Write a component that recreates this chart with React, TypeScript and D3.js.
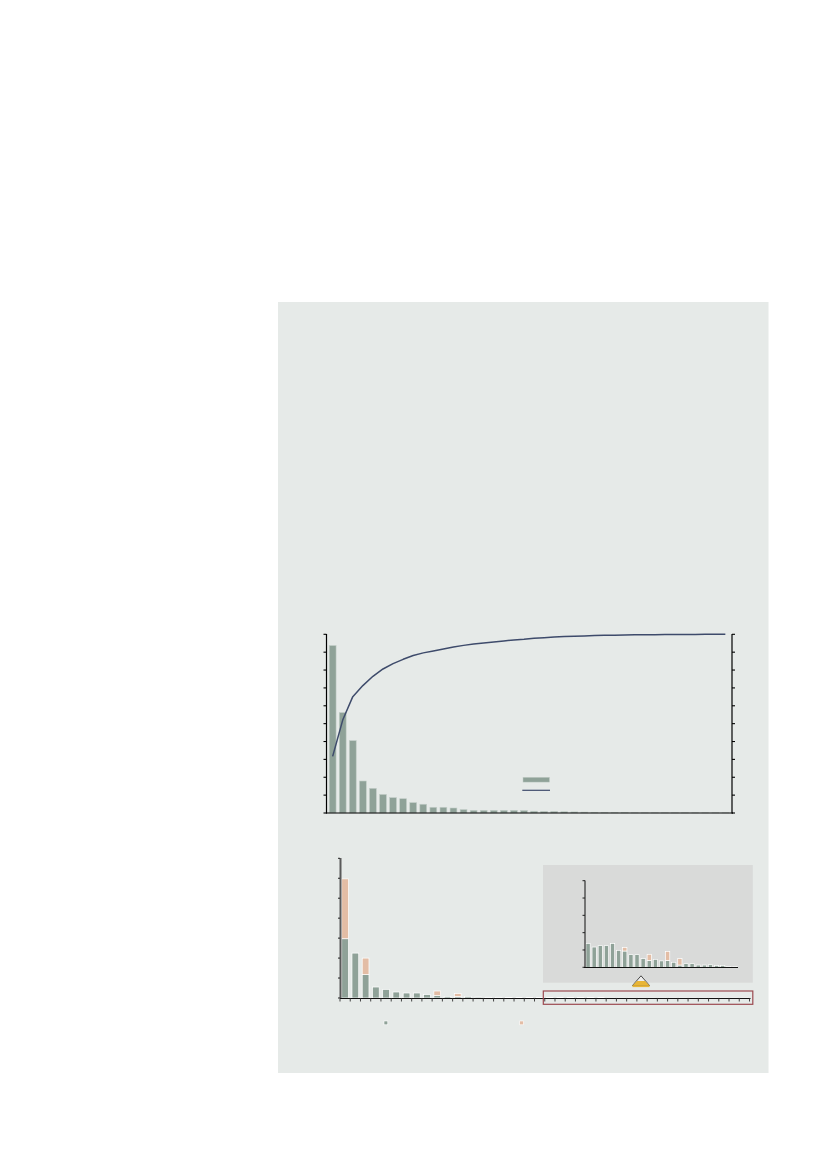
import React from "react";
import * as d3 from "d3";

// ---------- DATA ----------
const TOP_CATEGORIES = d3.range(40).map((i) => `C${i + 1}`);
const TOP_VALUES = [
  9.37, 5.62, 4.05, 1.79, 1.38, 1.04, 0.86, 0.8, 0.58, 0.49, 0.32, 0.32, 0.28, 0.19, 0.15,
  0.15, 0.15, 0.15, 0.15, 0.14, 0.1, 0.09, 0.09, 0.07, 0.06, 0.05, 0.04, 0.03, 0.02, 0.02,
  0.01, 0.01, 0.01, 0.01, 0.01, 0.01, 0.01, 0.01, 0.01, 0.01,
];
const CUMULATIVE_PCT = [
  31.7, 52.0, 65.1, 71.3, 76.5, 80.6, 83.6, 86.0, 88.1, 89.6, 90.7, 91.8, 92.9, 93.8, 94.6,
  95.1, 95.7, 96.3, 96.8, 97.2, 97.8, 98.1, 98.5, 98.7, 98.9, 99.1, 99.3, 99.4, 99.5, 99.6,
  99.7, 99.75, 99.8, 99.85, 99.9, 99.92, 99.95, 99.97, 99.99, 100,
];
const TOP_LEFT_TICKS = d3.range(0, 11);
const TOP_RIGHT_TICKS = d3.range(0, 101, 10);

const BOTTOM_CATEGORIES = d3.range(40).map((i) => `B${i + 1}`);
const BOTTOM_GREEN = [
  2.97, 2.25, 1.17, 0.55, 0.43, 0.3, 0.25, 0.25, 0.17, 0.12, 0.08, 0.07, 0.08, 0.05, 0.04,
  0.04, 0.03, 0.03, 0.03, 0.03, 0.03, 0.02, 0.02, 0.02, 0.02, 0.02, 0.01, 0.01, 0.01, 0.01,
  0.01, 0.01, 0.01, 0.01, 0.01, 0.01, 0.01, 0.01, 0.01, 0.01,
];
const BOTTOM_PEACH = [
  3.0, 0, 0.83, 0, 0, 0, 0, 0, 0, 0.23, 0, 0.15, 0, 0, 0, 0, 0, 0, 0, 0, 0, 0, 0, 0, 0, 0, 0,
  0, 0, 0, 0, 0, 0, 0, 0, 0, 0, 0, 0, 0,
];
const BOTTOM_TICKS = d3.range(0, 8);

const INSET_CATEGORIES = d3.range(25).map((i) => `I${i + 1}`);
const INSET_GREEN = [
  1.38, 1.17, 1.25, 1.25, 1.37, 0.98, 0.94, 0.73, 0.73, 0.5, 0.4, 0.46, 0.37, 0.4, 0.29, 0.13,
  0.21, 0.21, 0.13, 0.13, 0.15, 0.1, 0.1, 0.04, 0.04,
];
const INSET_PEACH = [
  0, 0, 0, 0, 0, 0, 0.21, 0, 0, 0, 0.35, 0, 0, 0.52, 0, 0.37, 0, 0, 0, 0, 0, 0, 0, 0, 0,
];
const INSET_TICKS = d3.range(0, 6);

// ---------- STYLE ----------
const PANEL = "#e6eae8";
const GREEN = "#8fa298";
const PEACH = "#e3bda5";
const NAVY = "#3e4b6b";
const INSET_BG = "#d9dad9";

export default function App() {
  // Top chart scales
  const tx = d3.scaleBand<string>().domain(TOP_CATEGORIES).range([326, 732]).paddingInner(0.32).paddingOuter(0.32);
  const ty = d3.scaleLinear().domain([0, 10]).range([813, 634.3]);
  const tyR = d3.scaleLinear().domain([0, 100]).range([813, 634.3]);
  const line = d3
    .line<number>()
    .x((_, i) => (tx(TOP_CATEGORIES[i]) as number) + tx.bandwidth() / 2)
    .y((d) => tyR(d));

  // Bottom chart scales
  const bx = d3.scaleBand<string>().domain(BOTTOM_CATEGORIES).range([340, 749.5]).paddingInner(0.34).paddingOuter(0.17);
  const by = d3.scaleLinear().domain([0, 7]).range([998, 858.3]);
  const bStep = bx.step();
  const bTickXs = d3.range(41).map((k) => 340 + k * bStep);

  // Inset scales
  const ix = d3.scaleBand<string>().domain(INSET_CATEGORIES).range([585, 738]).paddingInner(0.3).paddingOuter(0.15);
  const iy = d3.scaleLinear().domain([0, 5]).range([967.3, 880.7]);

  return (
    <svg
      width={827}
      height={1169}
      style={{ position: "absolute", left: 0, top: 0, display: "block" }}
    >
      <rect x={0} y={0} width={827} height={1169} fill="#ffffff" />
      <rect x={278} y={302} width={490.5} height={771} fill={PANEL} />

      {/* ---------- TOP CHART ---------- */}
      <g>
        {TOP_VALUES.map((v, i) => (
          <rect
            key={i}
            x={tx(TOP_CATEGORIES[i])}
            y={ty(v)}
            width={tx.bandwidth()}
            height={Math.max(0, ty(0) - ty(v))}
            fill={GREEN}
            stroke="#c3cec8"
            strokeWidth={0.6}
          />
        ))}
        <path d={line(CUMULATIVE_PCT) || ""} fill="none" stroke={NAVY} strokeWidth={1.5} strokeLinejoin="round" />
        {/* axes */}
        <line x1={326.5} x2={326.5} y1={634} y2={813.5} stroke="#000" strokeWidth={1.2} />
        {TOP_LEFT_TICKS.map((t) => (
          <line key={t} x1={323.5} x2={326.5} y1={ty(t)} y2={ty(t)} stroke="#000" strokeWidth={1.1} />
        ))}
        <line x1={732} x2={732} y1={634} y2={813.5} stroke="#000" strokeWidth={1.2} />
        {TOP_RIGHT_TICKS.map((t) => (
          <line key={t} x1={732} x2={735} y1={tyR(t)} y2={tyR(t)} stroke="#000" strokeWidth={1.1} />
        ))}
        <line x1={326} x2={733} y1={813} y2={813} stroke="#000" strokeWidth={1.2} />
        {/* legend */}
        <rect x={523} y={777.3} width={26.5} height={4.8} fill={GREEN} stroke="#c3cec8" strokeWidth={0.5} />
        <line x1={522.3} x2={550} y1={790.3} y2={790.3} stroke={NAVY} strokeWidth={1.2} />
      </g>

      {/* ---------- BOTTOM CHART ---------- */}
      <g>
        {BOTTOM_GREEN.map((v, i) => (
          <rect
            key={"g" + i}
            x={bx(BOTTOM_CATEGORIES[i])}
            y={by(v)}
            width={bx.bandwidth()}
            height={Math.max(0, by(0) - by(v))}
            fill={GREEN}
            stroke="#ffffff"
            strokeWidth={0.7}
          />
        ))}
        {BOTTOM_PEACH.map((v, i) =>
          v > 0 ? (
            <rect
              key={"p" + i}
              x={bx(BOTTOM_CATEGORIES[i])}
              y={by(BOTTOM_GREEN[i] + v)}
              width={bx.bandwidth()}
              height={by(BOTTOM_GREEN[i]) - by(BOTTOM_GREEN[i] + v)}
              fill={PEACH}
              stroke="#ffffff"
              strokeWidth={0.7}
            />
          ) : null
        )}
        {/* y axis */}
        <line x1={340.5} x2={340.5} y1={858} y2={998.5} stroke="#5a5a5a" strokeWidth={2} />
        {BOTTOM_TICKS.map((t) => (
          <line key={t} x1={338} x2={340} y1={by(t)} y2={by(t)} stroke="#222" strokeWidth={1} />
        ))}
        {/* x axis */}
        <line x1={340} x2={750.5} y1={998.5} y2={998.5} stroke="#111" strokeWidth={1.2} />
        {bTickXs.map((x, k) => (
          <line key={k} x1={x} x2={x} y1={998.5} y2={1001.5} stroke="#444" strokeWidth={1} />
        ))}
        {/* red highlight box */}
        <rect x={543.3} y={991} width={209.5} height={13.3} fill="none" stroke="#9c4a50" strokeWidth={1.2} />
        {/* legend */}
        <rect x={384} y={1021} width={3.8} height={3.8} fill={GREEN} stroke="#fff" strokeWidth={0.6} />
        <rect x={519.7} y={1021} width={3.8} height={3.8} fill={PEACH} stroke="#fff" strokeWidth={0.6} />
      </g>

      {/* ---------- INSET ---------- */}
      <g>
        <rect x={543} y={865} width={209.8} height={117.7} fill={INSET_BG} />
        {INSET_GREEN.map((v, i) => (
          <rect
            key={"ig" + i}
            x={ix(INSET_CATEGORIES[i])}
            y={iy(v)}
            width={ix.bandwidth()}
            height={Math.max(0, iy(0) - iy(v))}
            fill={GREEN}
            stroke="#ffffff"
            strokeWidth={0.7}
          />
        ))}
        {INSET_PEACH.map((v, i) =>
          v > 0 ? (
            <rect
              key={"ip" + i}
              x={ix(INSET_CATEGORIES[i])}
              y={iy(INSET_GREEN[i] + v)}
              width={ix.bandwidth()}
              height={iy(INSET_GREEN[i]) - iy(INSET_GREEN[i] + v)}
              fill={PEACH}
              stroke="#ffffff"
              strokeWidth={0.7}
            />
          ) : null
        )}
        <line x1={585} x2={585} y1={880.5} y2={967.5} stroke="#5a5a5a" strokeWidth={1.6} />
        {INSET_TICKS.map((t) => (
          <line key={t} x1={582.5} x2={585} y1={iy(t)} y2={iy(t)} stroke="#222" strokeWidth={1} />
        ))}
        <line x1={584} x2={738} y1={967.5} y2={967.5} stroke="#111" strokeWidth={1.2} />
        {/* zoom marker triangle */}
        <polygon points="641,975.8 649.5,985.5 632.5,985.5" fill="#eeeeee" stroke="#222" strokeWidth={0.8} />
        <polygon points="637,981 645,981 649.5,985.5 632.5,985.5" fill="#e8b535" />
        <rect x={632.5} y={985.3} width={17} height={1.8} fill="#e8b535" />
      </g>
    </svg>
  );
}
